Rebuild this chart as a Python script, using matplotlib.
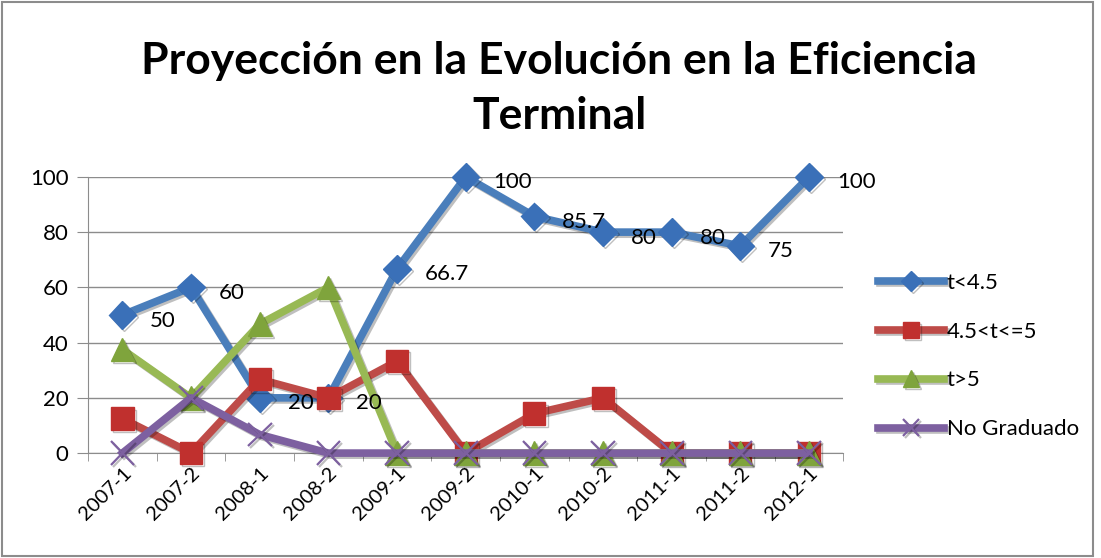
import matplotlib
matplotlib.use('Agg')
import matplotlib.pyplot as plt
import matplotlib.patheffects as pe
import numpy as np

categories = ['2007-1', '2007-2', '2008-1', '2008-2', '2009-1', '2009-2',
              '2010-1', '2010-2', '2011-1', '2011-2', '2012-1']
t_menor = [50, 60, 20, 20, 66.7, 100, 85.7, 80, 80, 75, 100]
t_medio = [12.5, 0, 26.7, 20, 33.3, 0, 14.3, 20, 0, 0, 0]
t_mayor = [37.5, 20, 46.7, 60, 0, 0, 0, 0, 0, 0, 0]
no_grad = [0, 20, 6.7, 0, 0, 0, 0, 0, 0, 0, 0]
labels_menor = ['50', '60', '20', '20', '66.7', '100', '85.7', '80', '80', '75', '100']

plt.rcParams['font.family'] = ['Lato', 'DejaVu Sans']

fig = plt.figure(figsize=(11.01, 5.58), dpi=100)
ax = fig.add_axes([0.080, 0.188, 0.686, 0.495])

x = np.arange(len(categories))
shadow = [pe.SimpleLineShadow(offset=(1.5, -1.5), alpha=0.25), pe.Normal()]

series = [
    (t_menor, 't<4.5', '#4A7EBB', '#3A70B8', 'D', 14),
    (t_medio, '4.5<t<=5', '#BE4B48', '#C0302E', 's', 16),
    (t_mayor, 't>5', '#98B954', '#7FA43C', '^', 17),
    (no_grad, 'No Graduado', '#7D60A0', '#7D60A0', 'x', 17),
]
handles = []
for i, (vals, name, col, mcol, mk, ms) in enumerate(series):
    kw = dict(markerfacecolor=mcol, markeredgecolor=mcol)
    if mk == 'x':
        kw = dict(markeredgecolor=mcol, markeredgewidth=1.6)
    h, = ax.plot(x, vals, color=col, lw=5.5, marker=mk, markersize=ms,
                 clip_on=False, zorder=3 + i, label=name,
                 path_effects=shadow, **kw)
    handles.append(h)

for xi, yi, lab in zip(x, t_menor, labels_menor):
    ax.annotate(lab, (xi, yi), xytext=(20, -4), textcoords='offset points',
                ha='left', va='center', fontsize=16, color='black', zorder=10)

ax.set_xlim(-0.5, len(categories) - 0.5)
ax.set_ylim(0, 100)
ax.set_yticks(range(0, 101, 20))
ax.yaxis.grid(True, color='#8C8C8C', lw=1)
ax.set_axisbelow(True)
ax.set_xticks(x)
ax.set_xticklabels(categories, rotation=45, ha='right', rotation_mode='anchor',
                   fontsize=14.5)
ax.set_xticks(np.arange(-0.5, len(categories)), minor=True)
ax.tick_params(axis='x', which='major', length=0, pad=8)
ax.tick_params(axis='x', which='minor', length=6, color='#8C8C8C')
ax.tick_params(axis='y', length=8, color='#8C8C8C', labelsize=16, pad=6)
for s in ['top', 'right']:
    ax.spines[s].set_visible(False)
for s in ['left', 'bottom']:
    ax.spines[s].set_color('#8C8C8C')

fig.text(0.508, 0.842, 'Proyección en la Evolución en la Eficiencia\nTerminal',
         fontsize=32, fontweight='bold', ha='center', va='center',
         linespacing=1.45, multialignment='center')

fig.legend(handles=handles, loc='center left', bbox_to_anchor=(0.779, 0.362),
           frameon=False, fontsize=16, handlelength=3.0, handletextpad=0.1,
           labelspacing=1.3, markerscale=0.7)

fig.patches.append(plt.Rectangle((0.002, 0.003), 0.991, 0.994, transform=fig.transFigure,
                                 fill=False, edgecolor='#8C8C8C', lw=1.5))

fig.savefig('out.png', dpi=100)
